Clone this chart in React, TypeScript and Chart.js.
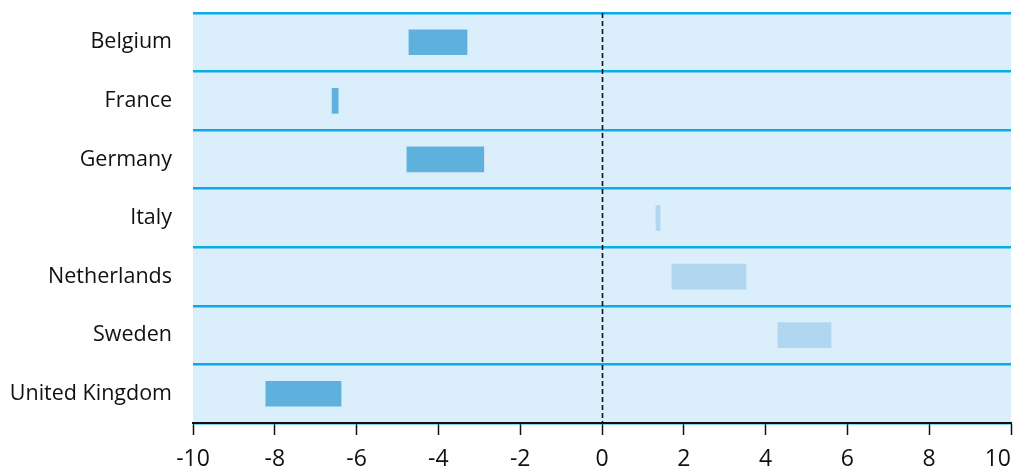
import React, { useEffect, useRef } from "react";
import { Chart, registerables } from "chart.js";

Chart.register(...registerables);

const categories = ["Belgium", "France", "Germany", "Italy", "Netherlands", "Sweden", "United Kingdom"];
const rangeStart = [-4.72, -6.6, -4.77, 1.32, 1.71, 4.3, -8.22];
const rangeEnd = [-3.3, -6.45, -2.89, 1.42, 3.52, 5.6, -6.38];
const xTicks = [-10, -8, -6, -4, -2, 0, 2, 4, 6, 8, 10];

const DARK = "#5eb1dc";
const LIGHT = "#b0d7ef";
const BG = "#dbeefb";
const GRID = "#0aabe8";
const FONT = "'Open Sans', Lato, sans-serif";

const bgPlugin = {
  id: "bgPlugin",
  beforeDraw(chart: any) {
    const { ctx, chartArea } = chart;
    ctx.save();
    ctx.fillStyle = BG;
    ctx.fillRect(chartArea.left, chartArea.top, chartArea.right - chartArea.left, chartArea.bottom - chartArea.top);
    ctx.restore();
  },
  afterDatasetsDraw(chart: any) {
    const { ctx, chartArea, scales } = chart;
    const x = Math.round(scales.x.getPixelForValue(0)) + 0.5;
    ctx.save();
    ctx.strokeStyle = "#111";
    ctx.lineWidth = 1.6;
    ctx.setLineDash([5, 3]);
    ctx.beginPath();
    ctx.moveTo(x, chartArea.top);
    ctx.lineTo(x, chartArea.bottom);
    ctx.stroke();
    ctx.restore();
  },
};

export default function App() {
  const ref = useRef<HTMLCanvasElement>(null);
  useEffect(() => {
    document.body.style.margin = "0";
    const data = categories.map((_, i) => [rangeStart[i], rangeEnd[i]]);
    const colors = rangeStart.map((v) => (v < 0 ? DARK : LIGHT));
    const chart = new Chart(ref.current as HTMLCanvasElement, {
      type: "bar",
      data: {
        labels: categories,
        datasets: [
          {
            data: data as any,
            backgroundColor: colors,
            borderWidth: 0,
            barThickness: 25,
          },
        ],
      },
      options: {
        indexAxis: "y",
        animation: false,
        responsive: false,
        maintainAspectRatio: false,
        layout: { padding: { top: 13, right: 3, left: 0, bottom: 0 } },
        plugins: { legend: { display: false }, tooltip: { enabled: false } },
        scales: {
          x: {
            type: "linear",
            min: -10,
            max: 10,
            afterBuildTicks(scale: any) {
              scale.ticks = xTicks.map((v) => ({ value: v }));
            },
            afterFit(scale: any) {
              scale.height = 44;
              scale.paddingLeft = 0;
              scale.paddingRight = 0;
            },
            grid: {
              drawOnChartArea: false,
              drawTicks: true,
              tickLength: 12,
              tickColor: "#111",
              tickWidth: 1.5,
            },
            border: { display: true, color: "#111", width: 2, z: 2 },
            ticks: {
              color: "#111",
              font: { family: FONT, size: 23 },
              padding: 11,
              maxRotation: 0,
              autoSkip: false,
              callback(value: any) {
                const v = Number(value);
                return v === 10 ? "10\u2007\u2007" : String(v);
              },
            },
          },
          y: {
            type: "category",
            offset: true,
            afterFit(scale: any) {
              scale.width = 193;
              scale.paddingTop = 0;
              scale.paddingBottom = 0;
            },
            grid: {
              offset: true,
              drawTicks: false,
              color: GRID,
              lineWidth: 2.5,
            },
            border: { display: false },
            ticks: {
              color: "#111",
              font: { family: FONT, size: 21.5 },
              padding: 21,
            },
          },
        },
      },
      plugins: [bgPlugin],
    });
    return () => chart.destroy();
  }, []);
  return <canvas ref={ref} width={1014} height={467} style={{ display: "block" }} />;
}
